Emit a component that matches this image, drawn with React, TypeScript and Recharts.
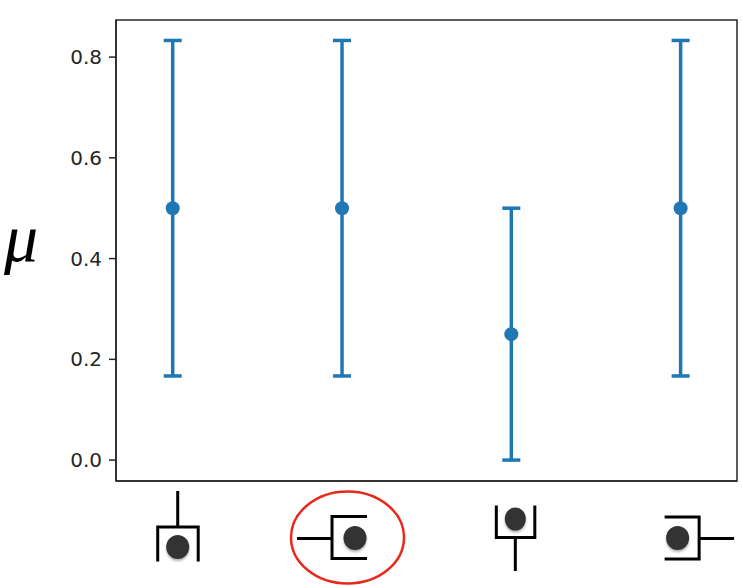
import { ScatterChart, Scatter, XAxis, YAxis, ErrorBar, ReferenceArea } from 'recharts';

const positions = [0, 1, 2, 3];
const means = [0.5, 0.5, 0.25, 0.5];
const lowerErrors = [0.333, 0.333, 0.25, 0.333];
const upperErrors = [0.333, 0.333, 0.25, 0.333];
const yTicks = [0, 0.2, 0.4, 0.6, 0.8];
const glyphs = ['top', 'left', 'bottom', 'right'];

const data = positions.map((x, i) => ({
  x,
  y: means[i],
  err: [lowerErrors[i], upperErrors[i]],
}));

const BLUE = '#1f77b4';
const INK = '#262626';

// little circuit pictures under the axis, one per category
const GlyphTick = ({ x, y, index }: { x: number; y: number; index: number }) => {
  const kind = glyphs[index];
  const line = { stroke: '#000', strokeWidth: 3, fill: 'none' };
  const dot = { fill: '#333', style: { filter: 'drop-shadow(0 2px 1px rgba(0,0,0,0.3))' } };
  return (
    <g transform={`translate(${x},${y})`}>
      {kind === 'top' && (
        <>
          <path d="M5 10V46M-15 80.5V46H25.5V80.5" {...line} />
          <ellipse cx={5} cy={66} rx={11.5} ry={12} {...dot} />
        </>
      )}
      {kind === 'left' && (
        <>
          <ellipse cx={5.5} cy={56.5} rx={56.5} ry={46} fill="none" stroke="#e8281a" strokeWidth={2.5} />
          <path d="M-45 57.5H-10M25 35.5H-10V77.5H25" {...line} />
          <ellipse cx={13} cy={57} rx={11.5} ry={12} {...dot} />
        </>
      )}
      {kind === 'bottom' && (
        <>
          <path d="M-15 24.5V56.5H23.5V24.5M4 56.5V90" {...line} />
          <ellipse cx={4} cy={38} rx={10.5} ry={11.5} {...dot} />
        </>
      )}
      {kind === 'right' && (
        <>
          <path d="M-16 36H18.5V78H-16M18.5 57.5H53.5" {...line} />
          <ellipse cx={-3} cy={57} rx={11.5} ry={12} {...dot} />
        </>
      )}
    </g>
  );
};

export default function App() {
  return (
    <div style={{ position: 'absolute', left: 0, top: 0 }}>
      <ScatterChart width={742} height={586} margin={{ top: 20, right: 5, bottom: 0, left: 0 }} data={data}>
        <XAxis
          type="number"
          dataKey="x"
          domain={[-0.335, 3.333]}
          ticks={positions}
          height={105}
          interval={0}
          axisLine={{ stroke: INK, strokeWidth: 1.5 }}
          tickLine={false}
          tickSize={0}
          tickMargin={0}
          tick={(props: any) => <GlyphTick x={props.x} y={props.y} index={props.index} />}
        />
        <YAxis
          type="number"
          dataKey="y"
          domain={[-0.0415, 0.8736]}
          ticks={yTicks}
          width={116}
          interval={0}
          allowDataOverflow
          axisLine={{ stroke: INK, strokeWidth: 1.5 }}
          tickLine={{ stroke: INK, strokeWidth: 1.5 }}
          tickSize={7}
          tickMargin={7}
          tickFormatter={(v: number) => v.toFixed(1)}
          tick={{ fill: INK, fontSize: 20, fontFamily: 'DejaVu Sans' }}
          label={{
            value: 'μ',
            position: 'insideLeft',
            offset: 4,
            dy: -14,
            fill: '#000',
            fontSize: 68,
            fontStyle: 'italic',
            fontFamily: 'Liberation Serif',
          }}
        />
        <ReferenceArea x1={-0.335} x2={3.333} y1={-0.0415} y2={0.8736} fill="none" stroke={INK} strokeWidth={1.5} />
        <Scatter data={data} fill={BLUE} isAnimationActive={false} shape={(p: any) => <circle cx={p.cx} cy={p.cy} r={7} fill={BLUE} />}>
          <ErrorBar dataKey="err" direction="y" width={9} stroke={BLUE} strokeWidth={3.5} isAnimationActive={false} />
        </Scatter>
      </ScatterChart>
    </div>
  );
}
